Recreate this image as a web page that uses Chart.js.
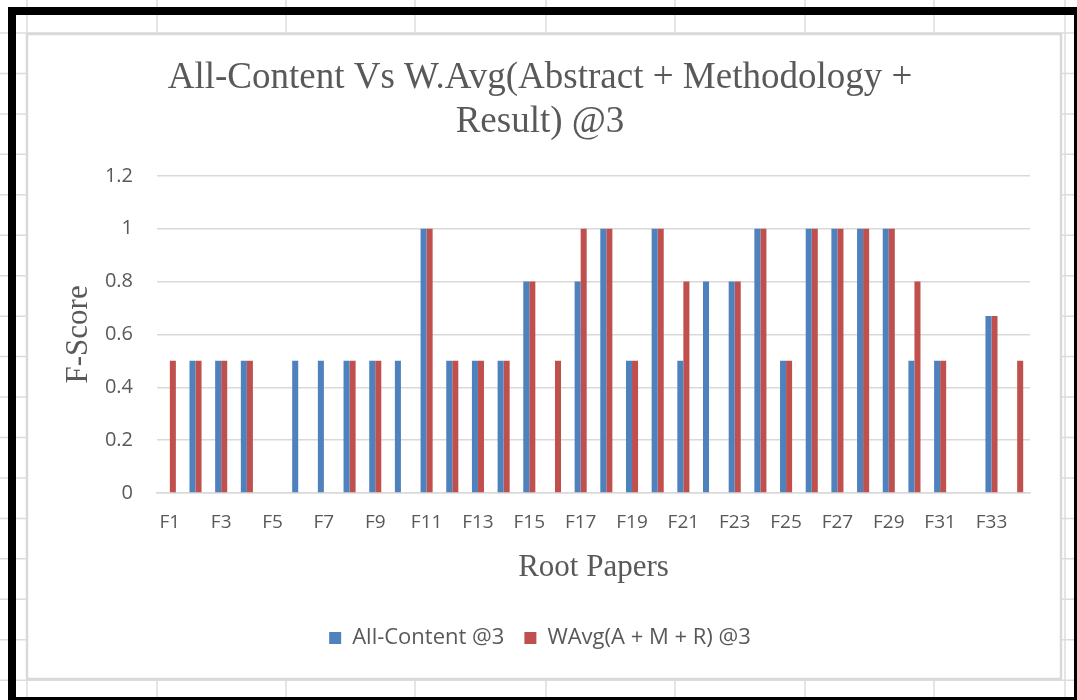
<!DOCTYPE html>
<html>
<head>
<meta charset="utf-8">
<script src="https://cdn.jsdelivr.net/npm/chart.js@4.4.0/dist/chart.umd.min.js"></script>
<style>
html, body { margin: 0; padding: 0; background: #fff; }
#wrap { width: 1077px; height: 700px; position: relative; }
</style>
</head>
<body>
<div id="wrap"><canvas id="barChart" width="1077" height="700"></canvas></div>
<script>
const ctx = document.getElementById('barChart').getContext('2d');

const labels = ['F1', 'F2', 'F3', 'F4', 'F5', 'F6', 'F7', 'F8', 'F9', 'F10',
    'F11', 'F12', 'F13', 'F14', 'F15', 'F16', 'F17', 'F18', 'F19', 'F20',
    'F21', 'F22', 'F23', 'F24', 'F25', 'F26', 'F27', 'F28', 'F29', 'F30',
    'F31', 'F32', 'F33', 'F34'];
const allContent = [0, 0.5, 0.5, 0.5, 0, 0.5, 0.5, 0.5, 0.5, 0.5,
    1, 0.5, 0.5, 0.5, 0.8, 0, 0.8, 1, 0.5, 1,
    0.5, 0.8, 0.8, 1, 0.5, 1, 1, 1, 1, 0.5,
    0.5, 0, 0.67, 0];
const wAvg = [0.5, 0.5, 0.5, 0.5, 0, 0, 0, 0.5, 0.5, 0,
    1, 0.5, 0.5, 0.5, 0.8, 0.5, 1, 1, 0.5, 1,
    0.8, 0, 0.8, 1, 0.5, 1, 1, 1, 1, 0.8,
    0.5, 0, 0.67, 0.5];
const seriesNames = ['All-Content @3', 'WAvg(A + M + R) @3'];
const title = ['All-Content Vs W.Avg(Abstract + Methodology +', 'Result) @3'];

const gray = '#595959';
const gridGray = '#d9d9d9';

// spreadsheet look behind the chart box
const sheetBackground = {
    id: 'sheetBackground',
    beforeDraw(chart) {
        const c = chart.ctx;
        c.save();
        c.fillStyle = '#fff';
        c.fillRect(0, 0, 1077, 700);

        // cell lines
        c.strokeStyle = '#dcdcdc';
        c.lineWidth = 1.5;
        const cols = [27, 157, 286, 415, 546, 675, 805, 934, 1065];
        cols.forEach(x => {
            c.beginPath(); c.moveTo(x, 0); c.lineTo(x, 700); c.stroke();
        });
        for (let y = 33; y < 700; y += 40.45) {
            c.beginPath(); c.moveTo(0, y); c.lineTo(1077, y); c.stroke();
        }

        // chart box
        c.fillStyle = '#fff';
        c.fillRect(26, 33, 1036, 647);
        c.strokeStyle = gridGray;
        c.lineWidth = 2.5;
        c.strokeRect(27, 34, 1034, 645);

        // black frame
        c.fillStyle = '#000';
        c.fillRect(8, 7, 1069, 8);
        c.fillRect(8, 7, 8, 693);
        c.fillRect(1074, 7, 3, 693);
        c.fillRect(8, 697, 1069, 3);
        c.restore();
    }
};

let chart = new Chart(ctx, {
    type: 'bar',
    data: {
        labels: labels,
        datasets: [{
            label: seriesNames[0],
            data: allContent,
            backgroundColor: '#4f81bd',
            borderWidth: 0
        }, {
            label: seriesNames[1],
            data: wAvg,
            backgroundColor: '#c0504d',
            borderWidth: 0
        }]
    },
    options: {
        responsive: false,
        animation: false,
        devicePixelRatio: 1,
        categoryPercentage: 0.47,
        barPercentage: 1.0,
        layout: {
            padding: { top: 34, left: 50, right: 47, bottom: 41 }
        },
        plugins: {
            title: {
                display: true,
                text: title,
                color: gray,
                font: { family: '"Liberation Serif", serif', size: 37, weight: 'normal', lineHeight: 1.2 },
                padding: { top: 22, bottom: 31 }
            },
            legend: {
                position: 'bottom',
                labels: {
                    color: gray,
                    font: { family: '"Open Sans", sans-serif', size: 22 },
                    boxWidth: 12,
                    boxHeight: 12,
                    padding: 20
                }
            },
            tooltip: { enabled: false }
        },
        scales: {
            x: {
                grid: { display: false, drawTicks: false },
                border: { display: true, color: gridGray, width: 1.5 },
                ticks: {
                    autoSkip: false,
                    maxRotation: 0,
                    padding: 18,
                    color: gray,
                    font: { family: '"Open Sans", sans-serif', size: 19 },
                    callback: function (val, idx) {
                        return idx % 2 === 0 ? this.getLabelForValue(val) : '';
                    }
                },
                title: {
                    display: true,
                    text: 'Root Papers',
                    color: gray,
                    font: { family: '"Liberation Serif", serif', size: 31, lineHeight: 1.2 },
                    padding: { top: 0, bottom: 21 }
                },
                afterFit: function (scale) { scale.height = 114; }
            },
            y: {
                min: 0,
                max: 1.2,
                grid: { color: gridGray, lineWidth: 1.5, drawTicks: false },
                border: { display: false },
                ticks: {
                    stepSize: 0.2,
                    padding: 24,
                    color: gray,
                    font: { family: '"Open Sans", sans-serif', size: 20 },
                    callback: function (val) {
                        return String(Number(val.toFixed(1)));
                    }
                },
                title: {
                    display: true,
                    text: 'F-Score',
                    color: gray,
                    font: { family: '"Liberation Serif", serif', size: 31, lineHeight: 1.2 },
                    padding: { top: 10, bottom: 0 }
                },
                afterFit: function (scale) { scale.width = 107; }
            }
        }
    },
    plugins: [sheetBackground]
});
</script>
</body>
</html>
